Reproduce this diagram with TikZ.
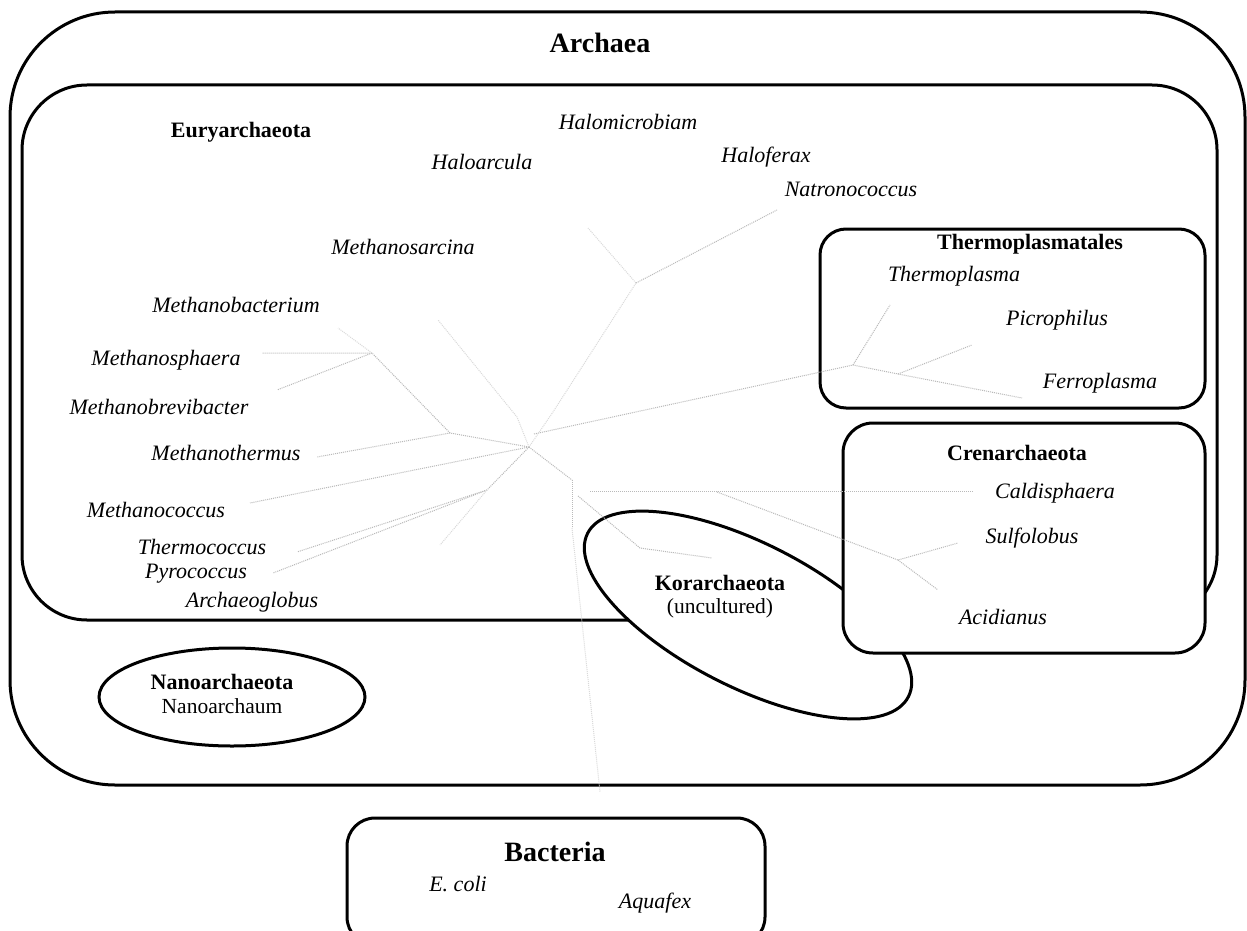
\documentclass[tikz,border=0pt]{standalone}
\usepackage{fontspec}
\setmainfont{Liberation Serif}
\usetikzlibrary{shapes.geometric}
\begin{document}
\begin{tikzpicture}[x=1pt,y=-1pt,
  frame/.style={draw=black,line width=3pt,fill=white,inner sep=0pt},
  br/.style={draw=gray!55,densely dotted,line width=1pt},
  brf/.style={draw=gray!30,densely dotted,line width=1pt},
  sp/.style={font=\fontsize{22}{26}\selectfont\itshape,inner sep=0pt},
  grp/.style={font=\fontsize{22}{26}\selectfont\bfseries,inner sep=0pt},
  plain/.style={font=\fontsize{21.5}{26}\selectfont,inner sep=0pt},
  big/.style={font=\fontsize{28}{33}\selectfont\bfseries,inner sep=0pt}]
\useasboundingbox (0,0) rectangle (1247,931);
\fill[white] (0,0) rectangle (1247,931);

% frames
\node[frame,rounded corners=105pt,minimum width=1235pt,minimum height=773pt] (archaeabox) at (627.5,398.5) {};
\node[frame,rounded corners=65pt,minimum width=1195pt,minimum height=535pt] (eurybox) at (619.5,352.5) {};
\node[frame,rounded corners=26pt,minimum width=385pt,minimum height=179pt] (thermobox) at (1012.5,318.5) {};
\node[frame,ellipse,minimum width=360pt,minimum height=144pt,rotate=-27] (korbox) at (748,615) {};
\node[frame,rounded corners=30pt,minimum width=362pt,minimum height=230pt] (crenbox) at (1024,538) {};
\node[frame,ellipse,minimum width=266pt,minimum height=98pt] (nanobox) at (232,697) {};
\node[frame,rounded corners=28pt,minimum width=418pt,minimum height=127pt] (bactbox) at (556,881.5) {};

% tree coordinates
\coordinate (root) at (529,447);
\coordinate (tstart) at (534,434);
\coordinate (tj) at (853,365);
\coordinate (tj2) at (898,374);
\coordinate (tpl) at (890,305);
\coordinate (pic) at (972,345);
\coordinate (fer) at (1022,398);
\coordinate (mthj) at (450,433);
\coordinate (mth) at (317,457);
\coordinate (mco) at (250,503);
\coordinate (mj) at (372,353);
\coordinate (msph) at (262,353);
\coordinate (mbrev) at (277,390);
\coordinate (mbact) at (338,328);
\coordinate (msj) at (517,417);
\coordinate (msar) at (438,320);
\coordinate (hs) at (553,412);
\coordinate (hj) at (636,283);
\coordinate (nat) at (777,210);
\coordinate (harc) at (588,228);
\coordinate (tcj) at (487,490);
\coordinate (tco) at (297,552);
\coordinate (pyr) at (273,573);
\coordinate (arch) at (440,545);
\coordinate (bk) at (572,480);
\coordinate (bkb) at (572,528);
\coordinate (cal0) at (590,491);
\coordinate (cal) at (973,491);
\coordinate (kj) at (578,496);
\coordinate (k1) at (640,548);
\coordinate (kend) at (712,558);
\coordinate (cs) at (717,492);
\coordinate (cj) at (898,560);
\coordinate (sul) at (958,543);
\coordinate (aci) at (938,590);
\coordinate (bact) at (600,792);

% tree branches
\draw[br] (tstart) -- (tj) -- (tj2) -- (fer);
\draw[br] (tj) -- (tpl);
\draw[br] (tj2) -- (pic);
\draw[br] (root) -- (mthj) -- (mth);
\draw[br] (root) -- (mco);
\draw[br] (mthj) -- (mj) -- (msph);
\draw[br] (mj) -- (mbrev);
\draw[brf] (mj) -- (mbact);
\draw[brf] (root) -- (msj) -- (msar);
\draw[brf] (root) -- (hs) -- (hj) -- (harc);
\draw[br] (hj) -- (nat);
\draw[br] (root) -- (tcj) -- (tco);
\draw[br] (tcj) -- (pyr);
\draw[brf] (tcj) -- (arch);
\draw[br] (root) -- (bk);
\draw[br] (bk) -- (bkb);
\draw[br] (cal0) -- (cal);
\draw[br] (kj) -- (k1) -- (kend);
\draw[br] (cs) -- (cj) -- (sul);
\draw[br] (cj) -- (aci);
\draw[brf] (bkb) -- (bact);

% labels
\node[big] (archaea) at (600,43) {Archaea};
\node[grp] (eury) at (241,132) {Euryarchaeota};
\node[sp] (halomic) at (628,122) {Halomicrobiam};
\node[sp] (haloarc) at (482,162) {Haloarcula};
\node[sp] (haloferax) at (766,157) {Haloferax};
\node[sp] (natro) at (851,189) {Natronococcus};
\node[sp] (methsarc) at (403,247) {Methanosarcina};
\node[sp] (methbact) at (236,305) {Methanobacterium};
\node[sp] (methsph) at (166,360) {Methanosphaera};
\node[sp] (methbrev) at (159,407) {Methanobrevibacter};
\node[sp] (meththerm) at (226,453) {Methanothermus};
\node[sp] (methcoc) at (156,510) {Methanococcus};
\node[sp] (thermococ) at (202,547) {Thermococcus};
\node[sp] (pyroc) at (196,574) {Pyrococcus};
\node[sp] (archaeog) at (252,602) {Archaeoglobus};
\node[grp] (thermopl) at (1030,244) {Thermoplasmatales};
\node[sp] (thermoplasma) at (954,276) {Thermoplasma};
\node[sp] (picro) at (1057,320) {Picrophilus};
\node[sp] (ferro) at (1100,383) {Ferroplasma};
\node[grp] (cren) at (1017,453) {Crenarchaeota};
\node[sp] (caldi) at (1055,493) {Caldisphaera};
\node[sp] (sulfo) at (1032,538) {Sulfolobus};
\node[sp] (acid) at (1003,617) {Acidianus};
\node[grp] (kor) at (720,583) {Korarchaeota};
\node[plain] (uncult) at (720,608) {(uncultured)};
\node[grp] (nano) at (222,682) {Nanoarchaeota};
\node[plain] (nanoarch) at (222,706) {Nanoarchaum};
\node[big] (bacteria) at (555,852) {Bacteria};
\node[sp] (ecoli) at (458,884) {E. coli};
\node[sp] (aquafex) at (655,903) {Aquafex};
\end{tikzpicture}
\end{document}
